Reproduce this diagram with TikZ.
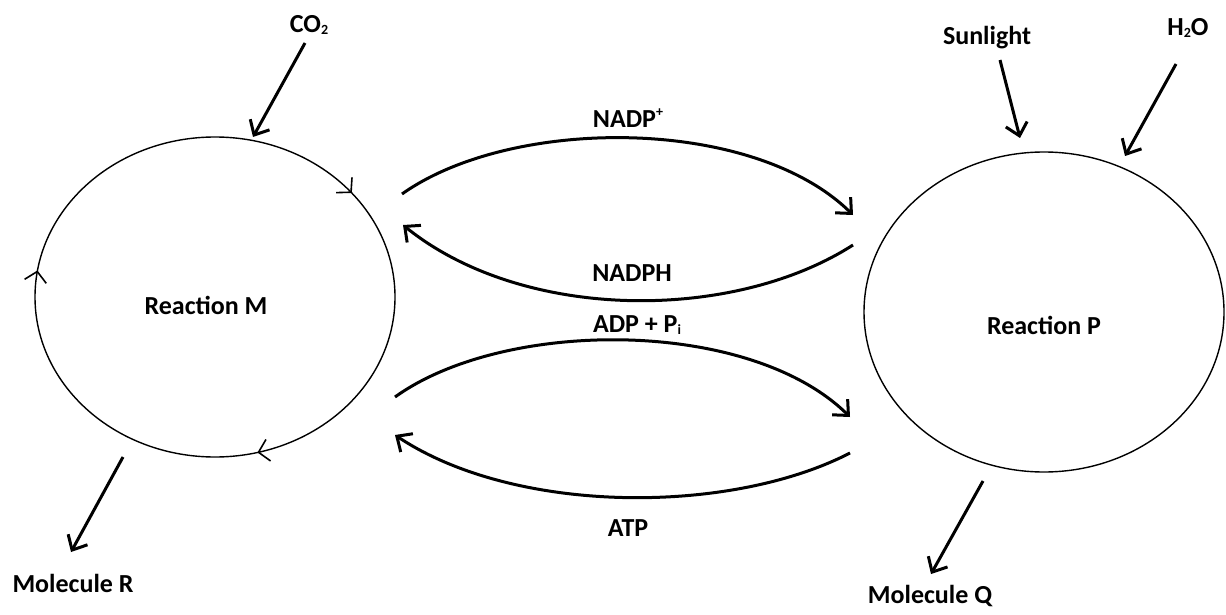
\documentclass[tikz,border=0pt]{standalone}
\usepackage{fontspec}
\setmainfont{Carlito}
\usetikzlibrary{arrows.meta,shapes.geometric,decorations.markings}

\newcommand{\lowidx}[1]{\raisebox{-0.2ex}{\fontsize{7}{8}\selectfont #1}}
\newcommand{\highidx}[1]{\raisebox{0.9ex}{\fontsize{7}{8}\selectfont #1}}

\begin{document}
\begin{tikzpicture}[x=0.5pt,y=-0.5pt,
    lbl/.style={font=\fontsize{13}{15}\selectfont\bfseries, inner sep=0pt},
    reaction/.style={draw, ellipse, line width=0.7pt, minimum width=180pt, minimum height=160pt, inner sep=0pt},
    turning/.style={postaction={decorate}, decoration={markings,
        mark=at position 0.108 with {\arrowreversed[line width=0.8pt]{Straight Barb[length=5pt,width=11pt]}},
        mark=at position 0.475 with {\arrowreversed[line width=0.8pt]{Straight Barb[length=5pt,width=11pt]}},
        mark=at position 0.79 with {\arrowreversed[line width=0.8pt]{Straight Barb[length=5pt,width=11pt]}}}},
    flow/.style={line width=1.5pt, -{Straight Barb[length=6pt,width=11pt]}}]
    \useasboundingbox (0,0) rectangle (1226,615);

    % the two reactions
    \node[reaction, turning] (M) at (215,297) {};
    \node[reaction] (P) at (1044,312) {};
    \node[lbl] (m) at (206,305) {Reaction M};
    \node[lbl] (p) at (1044,325) {Reaction P};

    % inputs and outputs
    \node[lbl] (co2) at (309,25) {CO\lowidx{2}};
    \node[lbl] (sun) at (987,38) {Sunlight};
    \node[lbl] (h2o) at (1188,28) {H\lowidx{2}O};
    \node[lbl] (molR) at (73,583) {Molecule R};
    \node[lbl] (molQ) at (930,596) {Molecule Q};

    \coordinate (co2-a) at (305,43);
    \coordinate (co2-b) at (253,137);
    \coordinate (sun-a) at (1000,60);
    \coordinate (sun-b) at (1020,138);
    \coordinate (h2o-a) at (1176,64);
    \coordinate (h2o-b) at (1125,156);
    \coordinate (molR-a) at (123,457);
    \coordinate (molR-b) at (71,552);
    \coordinate (molQ-a) at (983,481);
    \coordinate (molQ-b) at (931,574);
    \draw[flow] (co2-a) -- (co2-b);
    \draw[flow] (sun-a) -- (sun-b);
    \draw[flow] (h2o-a) -- (h2o-b);
    \draw[flow] (molR-a) -- (molR-b);
    \draw[flow] (molQ-a) -- (molQ-b);

    % carriers between the reactions
    \node[lbl] (nadp) at (628,118) {NADP\highidx{+}};
    \node[lbl] (nadph) at (632,273) {NADPH};
    \node[lbl] (adp) at (637,325) {ADP + P\lowidx{i}};
    \node[lbl] (atp) at (628,528) {ATP};

    \coordinate (nadp-a) at (402,194);
    \coordinate (nadp-b) at (853,215);
    \coordinate (nadph-a) at (853,245);
    \coordinate (nadph-b) at (403,225);
    \coordinate (adp-a) at (395,397);
    \coordinate (adp-b) at (850,417);
    \coordinate (atp-a) at (850,453);
    \coordinate (atp-b) at (395,435);
    \draw[flow] (nadp-a) .. controls (512,116) and (753,116) .. (nadp-b);
    \draw[flow] (nadph-a) .. controls (733,322) and (523,322) .. (nadph-b);
    \draw[flow] (adp-a) .. controls (505,318) and (750,318) .. (adp-b);
    \draw[flow] (atp-a) .. controls (730,515) and (515,515) .. (atp-b);
\end{tikzpicture}
\end{document}
